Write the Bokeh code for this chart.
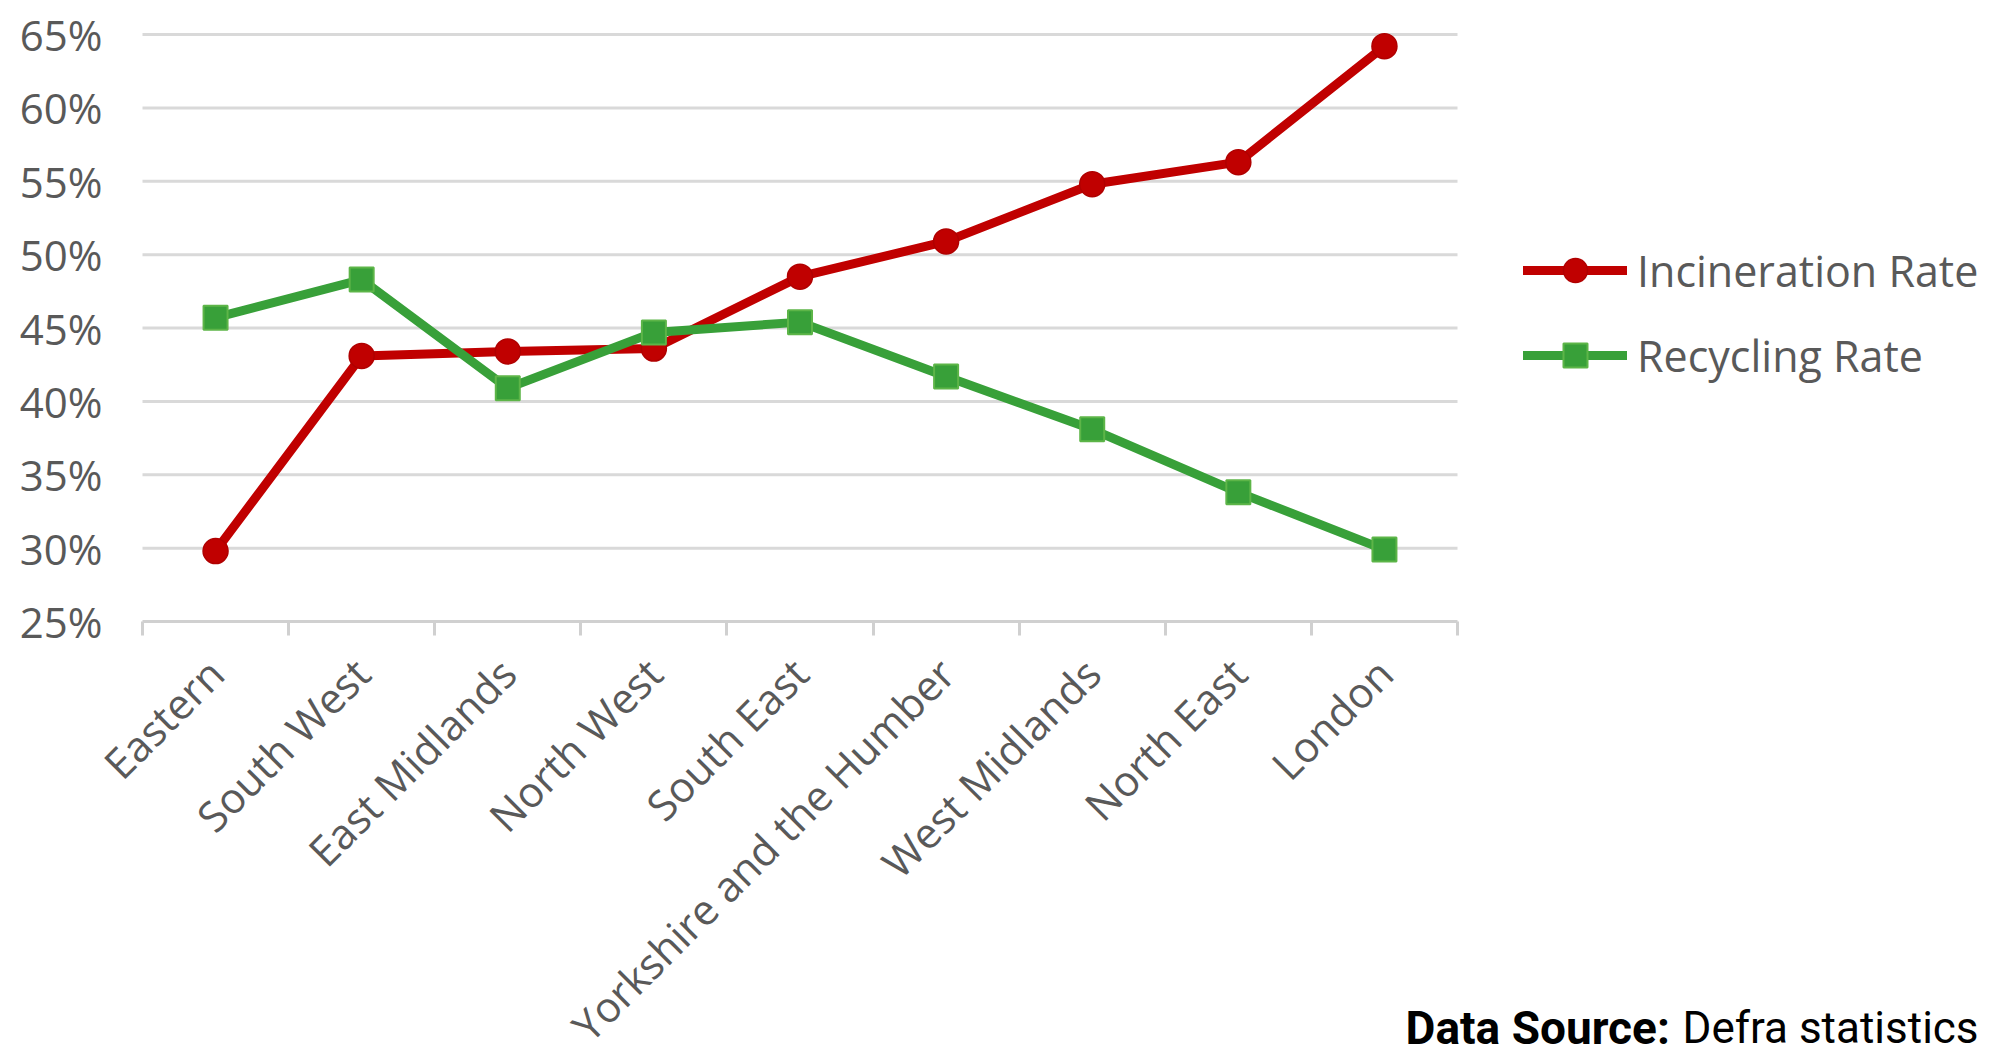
from math import pi
from bokeh.plotting import figure
from bokeh.models import (Range1d, FixedTicker, LinearAxis, Legend, LegendItem,
                          Label, PrintfTickFormatter, ColumnDataSource)
from bokeh.embed import file_html
from bokeh.resources import INLINE

# ---- data ----
regions = ["Eastern", "South West", "East Midlands", "North West", "South East",
           "Yorkshire and the Humber", "West Midlands", "North East", "London"]
incineration = [29.8, 43.1, 43.4, 43.6, 48.5, 50.9, 54.8, 56.3, 64.2]
recycling = [45.7, 48.3, 40.9, 44.7, 45.4, 41.7, 38.1, 33.8, 29.9]
y_ticks = [25, 30, 35, 40, 45, 50, 55, 60, 65]
series_names = ["Incineration Rate", "Recycling Rate"]
source_label = "Data Source:"
source_text = "Defra statistics"

# ---- styling / layout (pixels) ----
RED = "#C00000"
RED_EDGE = "#B00000"
GREEN = "#38A039"
GREEN_EDGE = "#5DB548"
TEXT = "#595959"
GRID = "#D9D9D9"
AXIS = "#D0D0D0"
FONT = "Open Sans"
W, H = 1995, 1056
PLOT_L, PLOT_R, PLOT_T, PLOT_B = 142, 1457, 34, 621

n = len(regions)
positions = [i + 0.5 for i in range(n)]
boundaries = list(range(n + 1))
y_lo, y_hi = y_ticks[0], y_ticks[-1]

# the frame covers the whole canvas; ranges are extended so that the
# plotting area of the reference sits at PLOT_L..PLOT_R, PLOT_T..PLOT_B
px_x = (PLOT_R - PLOT_L) / n
px_y = (PLOT_B - PLOT_T) / (y_hi - y_lo)
x_range = Range1d(-PLOT_L / px_x, n + (W - PLOT_R) / px_x)
y_range = Range1d(y_lo - (H - PLOT_B) / px_y, y_hi + PLOT_T / px_y)

src = ColumnDataSource(dict(x=positions, inc=incineration, rec=recycling))
grid_src = ColumnDataSource(dict(y=y_ticks[1:], x0=[0] * (len(y_ticks) - 1),
                                 x1=[n] * (len(y_ticks) - 1)))

p = figure(frame_width=W, frame_height=H,
           min_border_left=0, min_border_right=0, min_border_top=0, min_border_bottom=0,
           x_range=x_range, y_range=y_range, x_axis_type=None,
           output_backend="svg", toolbar_location=None)
p.outline_line_color = None
p.background_fill_color = "white"
p.border_fill_color = "white"
p.ygrid.visible = False

# y axis (labels only)
p.yaxis.fixed_location = 0
p.yaxis.ticker = FixedTicker(ticks=y_ticks)
p.yaxis.formatter = PrintfTickFormatter(format="%d%%")
p.yaxis.axis_line_color = None
p.yaxis.major_tick_line_color = None
p.yaxis.minor_tick_line_color = None
p.yaxis.major_tick_out = 0
p.yaxis.major_tick_in = 0
p.yaxis.major_label_standoff = 40
p.yaxis.major_label_text_font = FONT
p.yaxis.major_label_text_font_size = "42px"
p.yaxis.major_label_text_color = TEXT

# horizontal gridlines spanning the category area only
p.segment(x0="x0", x1="x1", y0="y", y1="y", source=grid_src,
          line_color=GRID, line_width=3)

# x axis: labels at category centres, ticks at category boundaries
xaxis = LinearAxis(ticker=FixedTicker(ticks=positions, minor_ticks=boundaries),
                   fixed_location=y_lo, bounds=(0, n))
xaxis.major_label_overrides = {pos: name for pos, name in zip(positions, regions)}
xaxis.major_tick_line_color = None
xaxis.major_tick_out = 14
xaxis.major_tick_in = 0
xaxis.minor_tick_out = 14
xaxis.minor_tick_in = 0
xaxis.minor_tick_line_color = AXIS
xaxis.minor_tick_line_width = 3
xaxis.axis_line_color = AXIS
xaxis.axis_line_width = 3
xaxis.major_label_orientation = pi / 4
xaxis.major_label_standoff = 30
xaxis.major_label_text_font = FONT
xaxis.major_label_text_font_size = "42px"
xaxis.major_label_text_color = TEXT
p.add_layout(xaxis, "below")

# series
l1 = p.line("x", "inc", source=src, line_color=RED, line_width=9,
            line_join="round", line_cap="round")
m1 = p.scatter("x", "inc", source=src, marker="circle", size=25,
               fill_color=RED, line_color=RED_EDGE, line_width=1.5)
l2 = p.line("x", "rec", source=src, line_color=GREEN, line_width=9,
            line_join="round", line_cap="round")
m2 = p.scatter("x", "rec", source=src, marker="square", size=24,
               fill_color=GREEN, line_color=GREEN_EDGE, line_width=2)

legend = Legend(items=[LegendItem(label=series_names[0], renderers=[l1, m1]),
                       LegendItem(label=series_names[1], renderers=[l2, m2])],
                location=(1523, H - 385), orientation="vertical",
                glyph_width=104, glyph_height=60, label_height=60,
                label_standoff=10, spacing=25, padding=0, margin=0,
                border_line_color=None, background_fill_alpha=0,
                label_text_font=FONT, label_text_font_size="43px",
                label_text_color=TEXT)
p.add_layout(legend, "center")

# data source note
p.add_layout(Label(x=1405, y=H - 1027, x_units="screen", y_units="screen",
                   text=source_label, text_font="Roboto", text_font_style="bold",
                   text_font_size="46px", text_color="black", text_baseline="alphabetic"))
p.add_layout(Label(x=1682, y=H - 1027, x_units="screen", y_units="screen",
                   text=source_text, text_font="Roboto",
                   text_font_size="44px", text_color="black", text_baseline="alphabetic"))

open("out.html", "w").write(file_html(p, INLINE))
